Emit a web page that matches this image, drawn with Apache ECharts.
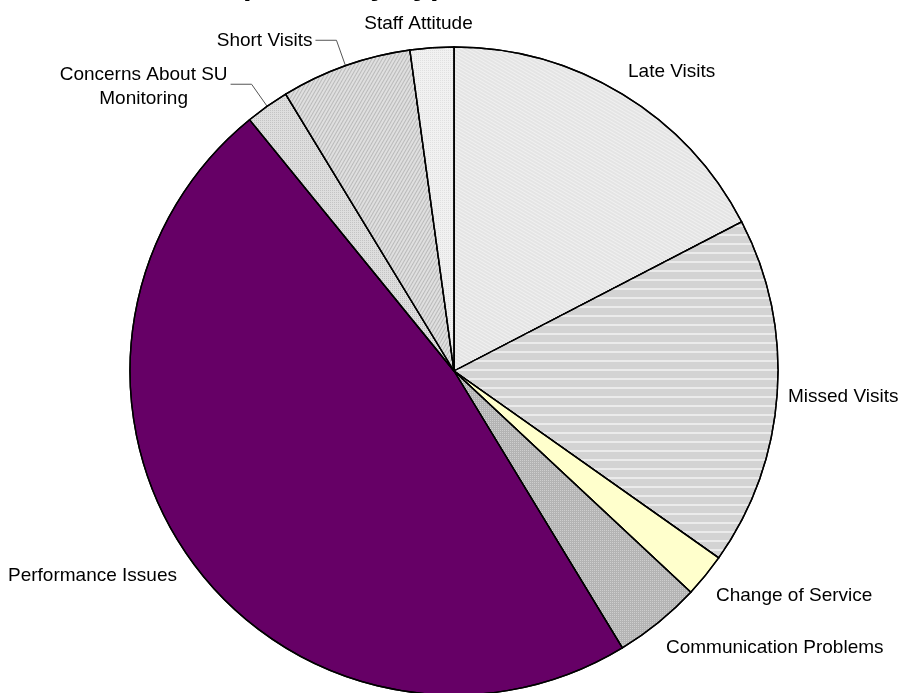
<!DOCTYPE html>
<html>
<head>
<meta charset="utf-8">
<script src="https://cdn.jsdelivr.net/npm/echarts@6/dist/echarts.min.js"></script>
<style>
html,body{margin:0;padding:0;background:#ffffff;}
#chart{width:899px;height:693px;}
</style>
</head>
<body>
<div id="chart"></div>
<script>
// ---- data ----
const categories = [
  'Late Visits',
  'Missed Visits',
  'Change of Service',
  'Communication Problems',
  'Performance Issues',
  'Concerns About SU Monitoring',
  'Short Visits',
  'Staff Attitude'
];
const values = [8, 8, 1, 2, 22, 1, 3, 1];
const titleText = 'Complaints by Type';

// ---- styles ----
const FONT = 'Liberation Sans, Arial, sans-serif';
const FS = 19;
const fills = ['#e4e4e4', '#d3d3d3', '#ffffcc', '#b4b4b4', '#660066', '#dedede', '#dfdfdf', '#f1f1f1'];
const decals = [
  { symbol: 'rect', symbolSize: 1, dashArrayX: [1, 0], dashArrayY: [1, 2], color: 'rgba(255,255,255,0.45)' },
  { symbol: 'rect', symbolSize: 1, dashArrayX: [1, 0], dashArrayY: [2, 7], color: 'rgba(255,255,255,0.55)' },
  { symbol: 'none' },
  { symbol: 'rect', symbolSize: 1, dashArrayX: [1, 1], dashArrayY: [1, 1], color: 'rgba(255,255,255,0.35)' },
  { symbol: 'none' },
  { symbol: 'rect', symbolSize: 1, dashArrayX: [1, 1], dashArrayY: [1, 1], color: 'rgba(150,150,150,0.35)' },
  { symbol: 'rect', symbolSize: 1, dashArrayX: [1, 2], dashArrayY: [1, 0], color: 'rgba(140,140,140,0.45)' },
  { symbol: 'rect', symbolSize: 1, dashArrayX: [1, 1], dashArrayY: [1, 1], color: 'rgba(200,200,200,0.4)' }
];
// label placement (text anchors), null = library default with leader line
const labelPlace = [
  { x: 628, y: 72, align: 'left' },
  { x: 788, y: 397, align: 'left' },
  { x: 716, y: 596, align: 'left' },
  { x: 666, y: 648, align: 'left' },
  { x: 8, y: 576, align: 'left' },
  null,
  null,
  { x: 418.5, y: 24, align: 'center' }
];

const chart = echarts.init(document.getElementById('chart'), null, { renderer: 'canvas' });

const seriesData = categories.map(function (name, i) {
  const item = {
    name: name,
    value: values[i],
    itemStyle: { color: fills[i], decal: decals[i] }
  };
  if (labelPlace[i]) {
    item.labelLine = { show: false };
  }
  if (i === 5) {
    item.label = {
      formatter: '{c|Concerns About SU}\n{c|Monitoring}',
      rich: { c: { align: 'center', fontSize: FS, fontFamily: FONT, color: '#000', lineHeight: 24 } }
    };
  }
  return item;
});

chart.setOption({
  animation: false,
  backgroundColor: '#ffffff',
  aria: { enabled: true, decal: { show: true } },
  graphic: [{
    type: 'text',
    x: 174,
    y: -15,
    silent: true,
    style: {
      text: titleText,
      font: 'bold 31px ' + FONT,
      fill: '#000',
      textAlign: 'left',
      textVerticalAlign: 'middle'
    }
  }],
  series: [{
    type: 'pie',
    center: [454, 371],
    radius: 324,
    startAngle: 90,
    clockwise: true,
    avoidLabelOverlap: false,
    itemStyle: { borderColor: '#000', borderWidth: 1.4 },
    emphasis: { disabled: true },
    label: {
      show: true,
      position: 'outside',
      formatter: '{b}',
      fontFamily: FONT,
      fontSize: FS,
      color: '#000',
      padding: [5, 0, 0, 0],
      distanceToLabelLine: 3
    },
    labelLine: {
      show: true,
      length: 27,
      length2: 21,
      smooth: false,
      lineStyle: { color: '#555', width: 1 }
    },
    labelLayout: function (params) {
      const p = labelPlace[params.dataIndex];
      if (!p) return {};
      return { x: p.x, y: p.y, align: p.align, verticalAlign: 'middle' };
    },
    data: seriesData
  }]
});
</script>
</body>
</html>
